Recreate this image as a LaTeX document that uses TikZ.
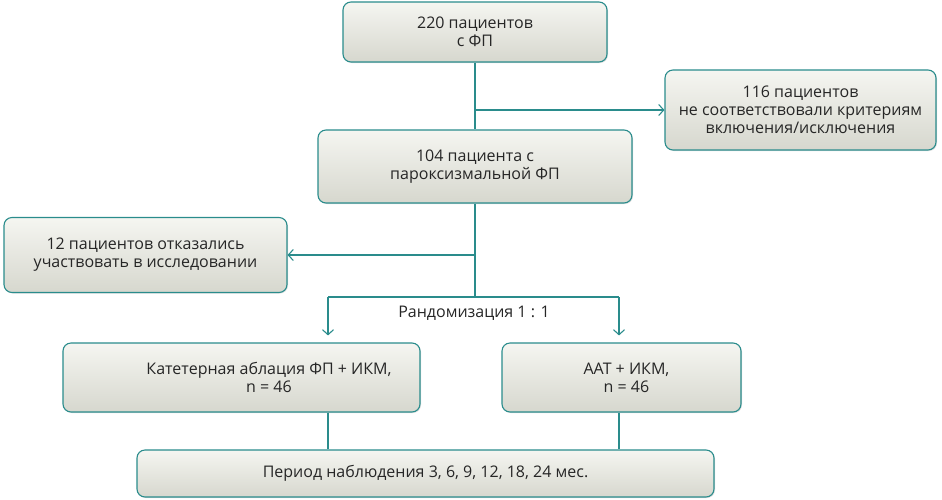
\documentclass[tikz,border=0pt]{standalone}
\usepackage{fontspec}
\setmainfont{Open Sans}
\usetikzlibrary{arrows.meta,shadows}
\definecolor{lineteal}{HTML}{2A8C8C}
\definecolor{boxfill}{HTML}{E9EAE0}
\begin{document}
\begin{tikzpicture}[x=1pt, y=-1pt, >={Straight Barb[length=5pt,width=11pt]},
  font=\fontsize{16}{18}\selectfont,
  b/.style={draw=lineteal, line width=1.1pt, rounded corners=8pt, align=center,
    inner sep=3pt, text=black!85, top color=boxfill!45!white, bottom color=boxfill!92!black,
    drop shadow={opacity=0.25, shadow xshift=1pt, shadow yshift=-1pt}},
  ln/.style={draw=lineteal, line width=1.1pt},
  lbl/.style={text=black!85}]
  \useasboundingbox (0,0) rectangle (942,499);
  \node[b, minimum width=264pt, minimum height=60pt] (all)  at (475,32)    {220 пациентов\\с ФП};
  \node[b, minimum width=271pt, minimum height=80pt] (excl) at (800.5,110) {116 пациентов\\не соответствовали критериям\\включения/исключения};
  \node[b, minimum width=314pt, minimum height=73pt] (parox) at (475,166.5) {104 пациента с\\пароксизмальной ФП};
  \node[b, minimum width=283pt, minimum height=75pt] (refuse) at (145.5,255) {12 пациентов отказались\\участвовать в исследовании};
  \node[b, minimum width=357pt, minimum height=69pt] (abl) at (241.5,377.5) {\hspace*{55pt}Катетерная аблация ФП + ИКМ,\\\hspace*{55pt}n = 46};
  \node[b, minimum width=239pt, minimum height=69pt] (aat) at (621.5,377.5) {\hspace*{10pt}ААТ + ИКМ,\\\hspace*{10pt}n = 46};
  \node[b, minimum width=577pt, minimum height=47pt] (follow) at (425.5,473.5) {Период наблюдения 3, 6, 9, 12, 18, 24 мес.};
  \node[lbl] (rand) at (474,313) {Рандомизация 1 : 1};
  \coordinate (j1) at (475,110);
  \coordinate (j2) at (475,255);
  \coordinate (j3) at (475,297);
  \coordinate (la) at (328,297);
  \coordinate (ra) at (619,297);
  \draw[ln] (all) -- (parox);
  \draw[ln, ->] (j1) -- (excl.west);
  \draw[ln] (parox) -- (j3);
  \draw[ln, ->] (j2) -- (refuse.east);
  \draw[ln] (la) -- (ra);
  \draw[ln, ->, shorten >=7pt] (la) -- (la |- abl.north);
  \draw[ln, ->, shorten >=7pt] (ra) -- (ra |- aat.north);
  \draw[ln] (la |- abl.south) -- (la |- follow.north);
  \draw[ln] (ra |- aat.south) -- (ra |- follow.north);
\end{tikzpicture}
\end{document}
